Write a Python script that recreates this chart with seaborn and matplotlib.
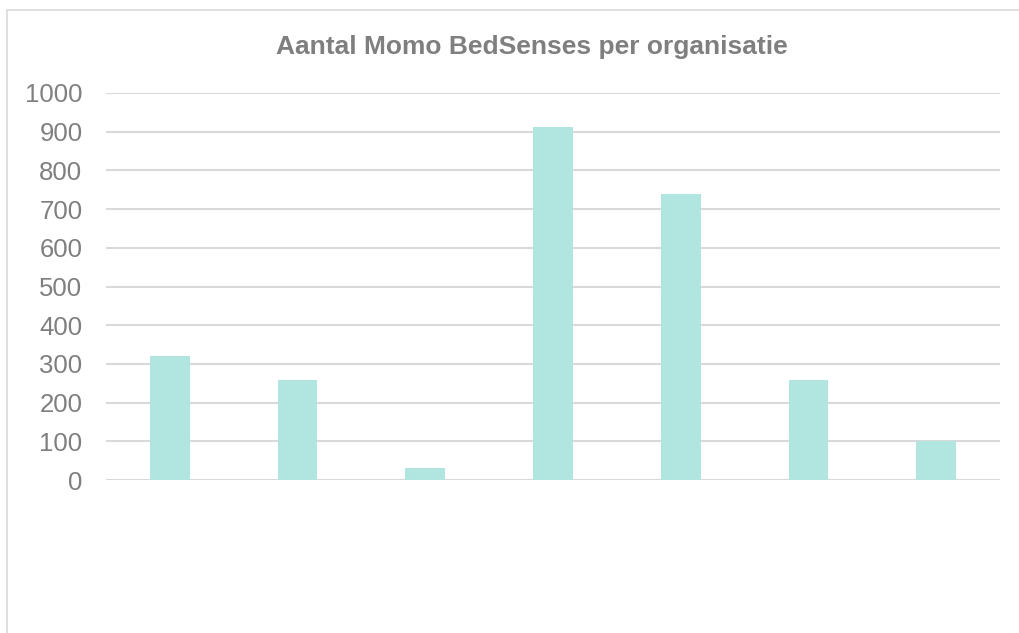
import matplotlib
matplotlib.use("Agg")
import matplotlib.pyplot as plt
import seaborn as sns
import pandas as pd
from matplotlib.patches import Rectangle

categories = ["Organisatie 1", "Organisatie 2", "Organisatie 3", "Organisatie 4",
              "Organisatie 5", "Organisatie 6", "Organisatie 7"]
values = [320, 258, 30, 912, 740, 258, 100]
y_ticks = [0, 100, 200, 300, 400, 500, 600, 700, 800, 900, 1000]
title = "Aantal Momo BedSenses per organisatie"

sns.set_theme(style="white")
plt.rcParams["font.family"] = ["Liberation Sans", "DejaVu Sans"]

W, H = 1019, 633
fig = plt.figure(figsize=(W / 100, H / 100), dpi=100)
ax = fig.add_axes([106 / W, (H - 480) / H, (1000 - 106) / W, (480 - 93) / H])

df = pd.DataFrame({"org": categories, "n": values})
sns.barplot(data=df, x="org", y="n", color="#B1E5DF", saturation=1, width=0.31,
            linewidth=0, ax=ax, zorder=3)

ax.set_ylim(0, 1000)
ax.set_xlim(-0.5, len(categories) - 0.5)
ax.set_yticks(y_ticks)
ax.set_yticklabels([str(t) for t in y_ticks], fontsize=18.5, color="#7F7F7F")
ax.tick_params(axis="y", length=0, pad=17)
ax.set_xticks([])
ax.set_xlabel("")
ax.set_ylabel("")
for t in y_ticks:
    ax.axhline(t, color="#D9D9D9", lw=1.5, zorder=1)
for s in ax.spines.values():
    s.set_visible(False)

fig.text(532 / W, 1 - 47 / H, title, ha="center", va="center",
         fontsize=19, fontweight="bold", color="#7F7F7F")

fig.patches.append(Rectangle((7 / W, -0.1), 1.2, (H - 10) / H + 0.1,
                             transform=fig.transFigure, fill=False,
                             edgecolor="#D9D9D9", lw=1.2))

fig.savefig("out.png", dpi=100)
